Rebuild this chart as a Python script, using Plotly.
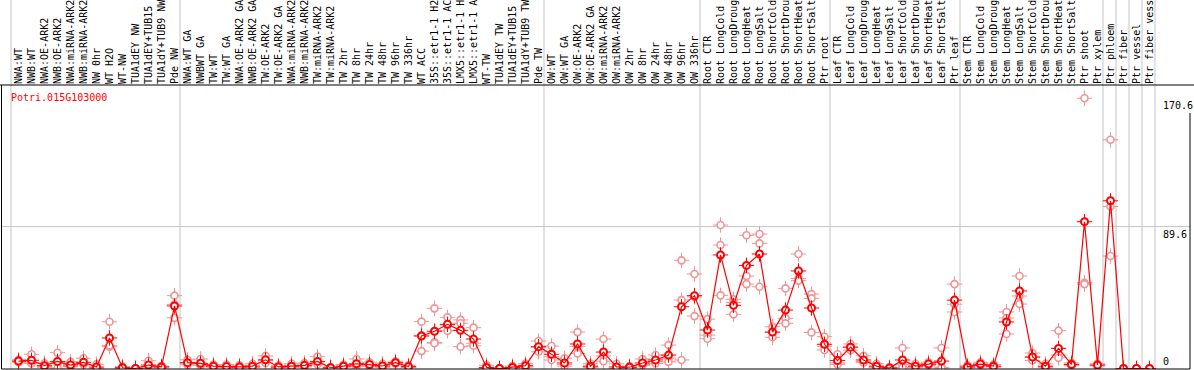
import plotly.graph_objects as go

gene_id = "Potri.015G103000"

categories = [
    "NWA:WT", "NWB:WT", "NWA:OE-ARK2", "NWB:OE-ARK2", "NWA:miRNA-ARK2", "NWB:miRNA-ARK2",
    "NW 0hr", "WT H2O", "WT-NW", "TUA1dEY NW", "TUA1dEY+TUB15 NW", "TUA1dY+TUB9 NW", "Pde NW",
    "NWA:WT GA", "NWBWT GA", "TW:WT", "TW:WT GA", "NWA:OE-ARK2 GA", "NWB:OE-ARK2 GA",
    "TW:OE-ARK2", "TW:OE-ARK2 GA", "NWA:miRNA-ARK2", "NWB:miRNA-ARK2", "TW:miRNA-ARK2",
    "TW:miRNA-ARK2", "TW 2hr", "TW 8hr", "TW 24hr", "TW 48hr", "TW 96hr", "TW 336hr",
    "WT ACC", "35S::etr1-1 H2O", "35S::etr1-1 ACC", "LMX5::etr1-1 H2O", "LMX5::etr1-1 ACC",
    "WT-TW", "TUA1dEY TW", "TUA1dEY+TUB15 TW", "TUA1dY+TUB9 TW", "Pde TW",
    "OW:WT", "OW:WT GA", "OW:OE-ARK2", "OW:OE-ARK2 GA", "OW:miRNA-ARK2", "OW:miRNA-ARK2",
    "OW 2hr", "OW 8hr", "OW 24hr", "OW 48hr", "OW 96hr", "OW 336hr",
    "Root CTR", "Root LongCold", "Root LongDrought", "Root LongHeat", "Root LongSalt",
    "Root ShortCold", "Root ShortDrought", "Root ShortHeat", "Root ShortSalt", "Ptr root",
    "Leaf CTR", "Leaf LongCold", "Leaf LongDrought", "Leaf LongHeat", "Leaf LongSalt",
    "Leaf ShortCold", "Leaf ShortDrought", "Leaf ShortHeat", "Leaf ShortSalt", "Ptr leaf",
    "Stem CTR", "Stem LongCold", "Stem LongDrought", "Stem LongHeat", "Stem LongSalt",
    "Stem ShortCold", "Stem ShortDrought", "Stem ShortHeat", "Stem ShortSalt", "Ptr shoot",
    "Ptr xylem", "Ptr phloem", "Ptr fiber", "Ptr vessel", "Ptr fiber vessel",
]

mean_values = [
    4.7, 5.2, 1.8, 4.5, 2.2, 3.9, 0.9, 19.3, 0.5, 0.0, 2.2, 1.0, 39.5,
    3.7, 3.3, 1.5, 1.2, 1.0, 1.5, 5.5, 1.0, 1.5, 2.0, 4.5, 0.5, 1.5, 3.0, 2.5, 1.6, 3.7, 1.2,
    20.5, 23.5, 27.9, 24.1, 18.6, 0.7, 0.0, 0.7, 1.8, 13.8,
    9.0, 3.5, 15.5, 1.5, 10.4, 1.0, 0.8, 3.5, 5.4, 8.5, 39.0, 46.0,
    24.3, 71.7, 39.9, 65.1, 72.3, 23.0, 36.9, 61.6, 38.2, 15.3,
    5.0, 13.5, 5.4, 1.5, 0.3, 5.4, 1.5, 2.8, 4.7, 43.2,
    1.0, 2.8, 1.5, 29.4, 49.0, 7.3, 1.5, 12.7, 2.6, 92.7,
    2.2, 105.9, 0.0, 0.0, 0.0,
]

rep1 = [
    5.5, 9.0, 3.3, 10.0, 4.2, 6.5, 2.7, 29.5, 1.2, 0.0, 4.9, 1.5, 46.0,
    5.5, 6.0, 2.5, 2.5, 2.0, 3.0, 8.0, 2.0, 3.0, 3.5, 7.5, 1.0, 2.5, 6.0, 4.0, 3.0, 4.6, 2.0,
    29.6, 38.0, 32.3, 30.7, 25.8, 2.1, 0.0, 1.5, 3.1, 17.4,
    14.2, 6.5, 23.0, 3.0, 18.6, 3.0, 1.5, 6.0, 8.5, 14.8, 68.3, 59.7,
    31.2, 90.6, 43.7, 84.1, 84.9, 26.4, 50.6, 72.3, 47.0, 20.1,
    9.0, 15.5, 8.0, 3.0, 0.8, 13.0, 3.0, 4.0, 13.0, 53.3,
    2.0, 4.0, 2.5, 35.7, 58.4, 9.8, 3.0, 23.9, 3.5, 170.6,
    3.0, 144.4, 0.0, 0.0, 0.0,
]

rep2 = [
    4.0, 3.3, 1.2, 3.3, 1.3, 2.7, 0.0, 13.8, 0.3, 0.0, 1.2, 0.3, 40.5,
    2.3, 2.0, 1.0, 0.5, 0.5, 0.8, 5.0, 0.5, 0.8, 1.5, 3.5, 0.3, 1.0, 1.5, 2.0, 1.0, 3.5, 0.8,
    21.0, 16.5, 27.5, 28.6, 16.0, 0.0, 0.0, 0.3, 1.4, 13.4,
    7.4, 2.5, 14.0, 1.0, 8.0, 0.0, 0.5, 2.5, 4.5, 6.5, 43.2, 45.2,
    21.1, 78.0, 41.7, 58.4, 79.0, 23.0, 31.7, 56.9, 44.3, 14.0,
    3.5, 13.5, 4.5, 1.0, 0.0, 2.5, 1.0, 2.5, 0.8, 40.6,
    0.5, 2.5, 1.0, 31.9, 45.8, 7.0, 1.0, 8.5, 2.5, 54.2,
    2.0, 102.3, 0.0, 0.0, 0.0,
]

rep3 = [
    4.5, 3.3, 0.8, 0.2, 1.1, 2.5, 0.0, 14.6, 0.0, 0.0, 0.5, 1.2, 32.0,
    3.3, 2.0, 1.0, 0.6, 0.5, 0.7, 3.5, 0.5, 0.7, 1.0, 2.5, 0.2, 1.0, 1.5, 1.5, 0.8, 3.0, 0.8,
    11.0, 16.0, 23.9, 13.8, 14.4, 0.0, 0.0, 0.3, 0.9, 10.6,
    5.4, 1.5, 9.5, 0.5, 4.6, 0.0, 0.4, 2.0, 3.2, 4.2, 5.4, 33.1,
    18.8, 46.2, 34.2, 53.3, 51.6, 19.7, 28.5, 55.5, 22.8, 11.7,
    2.5, 11.5, 3.7, 0.5, 0.0, 0.7, 0.5, 1.9, 0.3, 35.7,
    0.5, 1.9, 1.0, 21.8, 40.7, 5.1, 0.5, 6.8, 1.8, 53.3,
    1.6, 71.0, 0.0, 0.0, 0.0,
]

y_labels = ["170.6", "89.6", "0"]
y_label_values = [170.6, 89.6, 0.0]
grid_value = 89.6

# group boundaries (category index where a new group starts)
group_starts = [0, 13, 41, 53, 63, 73, 84, 85, 86, 87, 88]

# ---------------- styling / layout ----------------
W, H = 1194, 370
ML, MR, MT, MB = 12, 38, 85, 1
PW = W - ML - MR
PH = H - MT - MB
YMIN, YMAX = -0.3, 179.0
FONT = "DejaVu Sans Mono"
RED = "#ff0000"
PINK = "#f09494"

n = len(categories)
xs = list(range(n))


def px_x(px):
    return (px - ML) / PW


def px_y(py):
    return (H - MB - py) / PH


def val_y(v):
    return (v - YMIN) / (YMAX - YMIN)


rep_x, rep_y = [], []
for reps in (rep1, rep2, rep3):
    for i, v in enumerate(reps):
        if v is not None:
            rep_x.append(i)
            rep_y.append(v)

fig = go.Figure()
# replicate ticks + circles
fig.add_trace(go.Scatter(x=rep_x, y=rep_y, mode="markers", hoverinfo="skip",
                         marker=dict(symbol="cross-thin-open", size=11, color=PINK,
                                     line=dict(color=PINK, width=1))))
fig.add_trace(go.Scatter(x=rep_x, y=rep_y, mode="markers", hoverinfo="skip",
                         marker=dict(symbol="circle", size=7, color="white",
                                     line=dict(color=PINK, width=1.6))))
# mean ticks + circles
fig.add_trace(go.Scatter(x=xs, y=mean_values, mode="markers", hoverinfo="skip",
                         marker=dict(symbol="cross-thin-open", size=11, color=RED,
                                     line=dict(color=RED, width=1))))
fig.add_trace(go.Scatter(x=xs, y=mean_values, mode="markers",
                         marker=dict(symbol="circle", size=7, color="white",
                                     line=dict(color=RED, width=2))))
# mean line on top
fig.add_trace(go.Scatter(x=xs, y=mean_values, mode="lines", hoverinfo="skip",
                         line=dict(color=RED, width=1.2)))

shapes = []
for k in group_starts:
    xp = k / n
    shapes.append(dict(type="line", xref="paper", yref="paper",
                       x0=xp - 1 / PW, x1=xp - 1 / PW, y0=0, y1=px_y(0),
                       line=dict(color="#c4c4c4", width=1), layer="below"))
# horizontal grid line
shapes.append(dict(type="line", xref="paper", yref="paper",
                   x0=px_x(1), x1=px_x(1190), y0=val_y(grid_value), y1=val_y(grid_value),
                   line=dict(color="#c4c4c4", width=1), layer="below"))
# frame
frame = dict(line=dict(color="black", width=1), xref="paper", yref="paper", type="line")
shapes.append(dict(frame, x0=px_x(0), x1=px_x(1194), y0=1, y1=1))
shapes.append(dict(frame, x0=px_x(1.5), x1=px_x(1.5), y0=0, y1=1))
shapes.append(dict(frame, x0=px_x(1.5), x1=px_x(1190), y0=0, y1=0))
shapes.append(dict(frame, x0=px_x(1190), x1=px_x(1190), y0=0, y1=px_y(113)))

annotations = [dict(text=gene_id, xref="paper", yref="paper", x=px_x(9), y=px_y(97),
                    xanchor="left", yanchor="middle", showarrow=False,
                    font=dict(family=FONT, size=10, color=RED))]
for lab, v in zip(y_labels, y_label_values):
    annotations.append(dict(text=lab, xref="paper", yref="paper", x=px_x(1161),
                            y=val_y(v), xanchor="left",
                            yanchor="bottom" if v == 0 else "top", showarrow=False,
                            font=dict(family=FONT, size=10, color="black")))

fig.update_layout(
    width=W, height=H, autosize=False,
    margin=dict(l=ML, r=MR, t=MT, b=MB, pad=0),
    paper_bgcolor="white", plot_bgcolor="white",
    showlegend=False,
    shapes=shapes, annotations=annotations,
    xaxis=dict(range=[-0.5, n - 0.5], side="top", tickmode="array", tickvals=xs,
               ticktext=categories, tickangle=-90, ticks="", showgrid=False,
               zeroline=False, showline=False, automargin=False,
               tickfont=dict(family=FONT, size=10, color="black")),
    yaxis=dict(range=[YMIN, YMAX], showticklabels=False, showgrid=False,
               zeroline=False, showline=False, ticks="", automargin=False),
)

fig.write_html(
    "out.html",
    config={"displayModeBar": False},
    post_script="document.body.style.margin='0';document.body.style.overflow='hidden';",
)
